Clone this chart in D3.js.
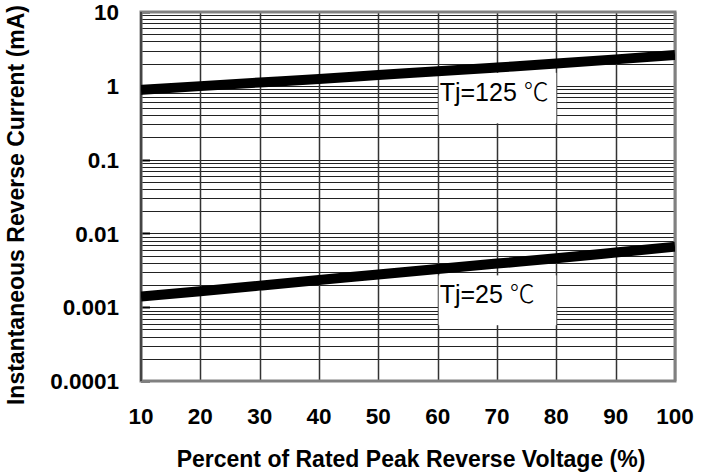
<!DOCTYPE html>
<meta charset="utf-8">
<style>
body { margin: 0; background: #fff; }
text { font-family: Arial, "Liberation Sans", sans-serif; fill: #000; }
.tick-label { font-weight: bold; font-size: 22.5px; }
.axis-title { font-weight: bold; font-size: 23px; }
.note { font-size: 25px; }
</style>
<svg width="711" height="476"></svg>
<script src="https://d3js.org/d3.v7.min.js"></script>
<script>

// percent of rated peak reverse voltage
var xTicks = [10, 20, 30, 40, 50, 60, 70, 80, 90, 100];
var yTicks = [0.0001, 0.001, 0.01, 0.1, 1, 10];
var yTickLabels = ["0.0001", "0.001", "0.01", "0.1", "1", "10"];

// reverse current (mA)
var pct = [10, 20, 30, 40, 50, 60, 70, 80, 90, 100];
var tj125 = [0.88, 0.99, 1.11, 1.24, 1.40, 1.57, 1.77, 2.00, 2.28, 2.62];
var tj25 = [0.00139, 0.00165, 0.00196, 0.00233, 0.00278, 0.0033, 0.0039, 0.0046, 0.0055, 0.0066];

// label boxes, in data units
var notes = [
  {text: "Tj=125 ", x0: 60, x1: 80, y0: 0.31, y1: 1.5},
  {text: "Tj=25 ", x0: 60, x1: 80, y0: 0.00057, y1: 0.0027}
];

var svg = d3.select("svg"),
    pl = 141, pr = 675, pt = 12, pb = 381;

var x = d3.scaleLinear().domain([10, 100]).range([pl, pr]);
var y = d3.scaleLog().domain([0.0001, 10]).range([pb, pt]);

// minor grid values 2..9 per decade
var minor = [];
yTicks.slice(0, -1).forEach(function(d) {
  for (var k = 2; k <= 9; k++) minor.push(d * k);
});

var grid = svg.append("g");
grid.selectAll(".h").data(minor.concat(yTicks))
  .enter().append("line")
    .attr("x1", pl).attr("x2", pr)
    .attr("y1", function(d) { return Math.round(y(d)) + 0.5; })
    .attr("y2", function(d) { return Math.round(y(d)) + 0.5; })
    .attr("stroke", "#222").attr("stroke-width", 1.2);

grid.selectAll(".v").data(xTicks)
  .enter().append("line")
    .attr("x1", function(d) { return Math.round(x(d)) + 0.5; })
    .attr("x2", function(d) { return Math.round(x(d)) + 0.5; })
    .attr("y1", pt).attr("y2", pb)
    .attr("stroke", "#333").attr("stroke-width", 1.5);

// short ticks at decades on the left
grid.selectAll(".t").data(yTicks)
  .enter().append("line")
    .attr("x1", pl).attr("x2", pl + 9)
    .attr("y1", function(d) { return Math.round(y(d)) + 0.5; })
    .attr("y2", function(d) { return Math.round(y(d)) + 0.5; })
    .attr("stroke", "#000").attr("stroke-width", 2);

// white boxes behind the labels
svg.selectAll(".box").data(notes)
  .enter().append("rect")
    .attr("x", function(d) { return x(d.x0) + 1; })
    .attr("width", function(d) { return x(d.x1) - x(d.x0) - 1; })
    .attr("y", function(d) { return y(d.y1); })
    .attr("height", function(d) { return y(d.y0) - y(d.y1); })
    .attr("fill", "#fff");

svg.append("rect")
    .attr("x", pl).attr("y", pt)
    .attr("width", pr - pl).attr("height", pb - pt)
    .attr("fill", "none").attr("stroke", "#808080").attr("stroke-width", 3);
svg.append("line")
    .attr("x1", pl).attr("x2", pl).attr("y1", pt).attr("y2", pb)
    .attr("stroke", "#444").attr("stroke-width", 2);

svg.append("clipPath").attr("id", "clip")
  .append("rect").attr("x", pl).attr("y", pt)
    .attr("width", pr - pl).attr("height", pb - pt);

var line = d3.line()
    .x(function(d) { return x(d[0]); })
    .y(function(d) { return y(d[1]); })
    .curve(d3.curveMonotoneX);

[tj125, tj25].forEach(function(s) {
  svg.append("path")
      .datum(pct.map(function(p, i) { return [p, s[i]]; }))
      .attr("clip-path", "url(#clip)")
      .attr("d", line)
      .attr("fill", "none")
      .attr("stroke", "#000")
      .attr("stroke-width", 10);
});

var nt = svg.selectAll(".note").data(notes)
  .enter().append("text")
    .attr("class", "note")
    .attr("x", function(d) { return x(d.x0) + 2; })
    .attr("y", function(d) { return (y(d.y0) + y(d.y1)) / 2 + 3; })
    .text(function(d) { return d.text; });
nt.append("tspan")
    .style("font-family", "'Noto Sans CJK SC', sans-serif")
    .style("font-weight", 300)
    .text("\u2103");

// tick labels
svg.selectAll(".yl").data(yTicks)
  .enter().append("text")
    .attr("class", "tick-label")
    .attr("text-anchor", "end")
    .attr("x", 119)
    .attr("y", function(d) { return y(d); })
    .attr("dy", "0.36em")
    .text(function(d, i) { return yTickLabels[i]; });

svg.selectAll(".xl").data(xTicks)
  .enter().append("text")
    .attr("class", "tick-label")
    .attr("text-anchor", "middle")
    .attr("x", function(d) { return x(d); })
    .attr("y", 424)
    .text(function(d) { return d; });

svg.append("text")
    .attr("class", "axis-title")
    .attr("text-anchor", "middle")
    .attr("x", 411).attr("y", 467)
    .text("Percent of Rated Peak Reverse Voltage (%)");

svg.append("text")
    .attr("class", "axis-title")
    .attr("text-anchor", "middle")
    .attr("transform", "translate(24,205) rotate(-90)")
    .text("Instantaneous Reverse Current (mA)");

</script>
